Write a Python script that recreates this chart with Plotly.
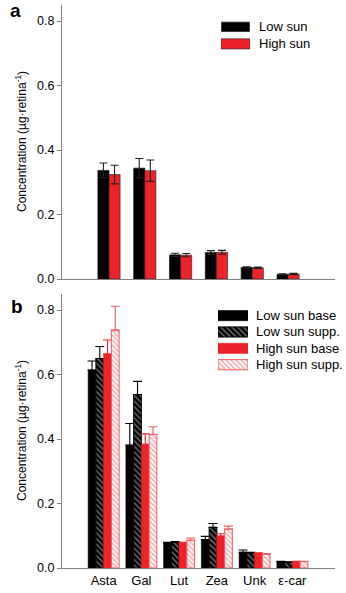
import plotly.graph_objects as go

# ---------------- data ----------------
categories = ["Asta", "Gal", "Lut", "Zea", "Unk", "ε-car"]

# panel a
a_names = ["Low sun", "High sun"]
a_low = [0.337, 0.344, 0.075, 0.082, 0.036, 0.0145]
a_low_err = [0.023, 0.030, 0.005, 0.006, 0.002, 0.002]
a_high = [0.324, 0.336, 0.074, 0.083, 0.035, 0.0155]
a_high_err = [0.029, 0.033, 0.005, 0.006, 0.002, 0.002]

# panel b
b_names = ["Low sun base", "Low sun supp.", "High sun base", "High sun supp."]
b_low_base = [0.614, 0.381, 0.077, 0.088, 0.049, 0.020]
b_low_base_err = [0.028, 0.067, 0.003, 0.010, 0.007, 0.001]
b_low_supp = [0.650, 0.538, 0.080, 0.126, 0.047, 0.018]
b_low_supp_err = [0.037, 0.041, 0.002, 0.012, 0.002, 0.001]
b_high_base = [0.664, 0.384, 0.077, 0.099, 0.046, 0.020]
b_high_base_err = [0.043, 0.032, 0.003, 0.007, 0.001, 0.001]
b_high_supp = [0.738, 0.414, 0.086, 0.121, 0.043, 0.020]
b_high_supp_err = [0.074, 0.024, 0.007, 0.009, 0.002, 0.001]

y_ticks = [0.0, 0.2, 0.4, 0.6, 0.8]
y_ticklabels = ["0.0", "0.2", "0.4", "0.6", "0.8"]

# ---------------- style ----------------
W, H = 346, 593
ML, MR, MT, MB = 61, 11, 5, 23
PW, PH = W - ML - MR, H - MT - MB
FONT = "Arial, Liberation Sans, sans-serif"
RED = "#ED2329"
PINK = "#F25A60"
AXC = "#7f7f7f"


def px_x(p):
    return (p - ML) / PW


def px_y(p):
    return (H - MB - p) / PH


fig = go.Figure()

xs = list(range(len(categories)))

# ---- panel a bars ----
wa = 0.31
for vals, errs, color, off, name in [
    (a_low, a_low_err, "black", -wa, a_names[0]),
    (a_high, a_high_err, RED, 0.0, a_names[1]),
]:
    fig.add_trace(go.Bar(
        x=xs, y=vals, width=wa, offset=off, name=name,
        marker=dict(color=color, line=dict(color="#222" if color == RED else "black", width=0.6)),
        error_y=dict(type="data", array=errs, color="#222", thickness=1.1, width=4),
        xaxis="x", yaxis="y", showlegend=False,
    ))

# ---- panel b bars ----
wb = 0.205
b_series = [
    (b_low_base, b_low_base_err, dict(color="black", line=dict(color="black", width=0.6)), "black", -2 * wb),
    (b_low_supp, b_low_supp_err, dict(color="black", line=dict(color="black", width=1),
                                      pattern=dict(shape="\\", fgcolor="white", bgcolor="black",
                                                   size=4, solidity=0.3)), "black", -wb),
    (b_high_base, b_high_base_err, dict(color=RED, line=dict(color=RED, width=0.6)), RED, 0.0),
    (b_high_supp, b_high_supp_err, dict(color=RED, line=dict(color=PINK, width=1),
                                        pattern=dict(shape="\\", fgcolor=PINK, bgcolor="white",
                                                     size=3.5, solidity=0.45)), PINK, wb),
]
for (vals, errs, mk, ecol, off), name in zip(b_series, b_names):
    fig.add_trace(go.Bar(
        x=xs, y=vals, width=wb, offset=off, name=name, marker=mk,
        error_y=dict(type="data", symmetric=False, array=errs, arrayminus=[0] * len(errs),
                     color=ecol, thickness=1.1, width=4.5),
        xaxis="x2", yaxis="y2", showlegend=False,
    ))

# ---- legend swatches (horizontal bars on hidden axes) ----
a_leg_marks = [dict(color="black"), dict(color=RED, line=dict(color="#222", width=0.6))]
for i, (name, mk) in enumerate(zip(a_names, a_leg_marks)):
    fig.add_trace(go.Bar(x=[1], y=[i], base=0, orientation="h", width=0.6, marker=mk,
                         xaxis="x3", yaxis="y3", showlegend=False, hoverinfo="skip"))
for i, (name, ser) in enumerate(zip(b_names, b_series)):
    fig.add_trace(go.Bar(x=[1], y=[i], base=0, orientation="h", width=0.62, marker=ser[2],
                         xaxis="x4", yaxis="y4", showlegend=False, hoverinfo="skip"))

# ---------------- layout ----------------
dom_a = [px_y(280), px_y(5)]
dom_b = [px_y(570), px_y(295)]

yax = dict(range=[0, 0.85], tickvals=y_ticks, ticktext=y_ticklabels, ticks="outside", ticklen=4,
           tickcolor=AXC, showline=True, linecolor=AXC, linewidth=1, showgrid=False, zeroline=False,
           tickfont=dict(family=FONT, size=12.5, color="black"), anchor="free", position=0)
xax = dict(showline=True, linecolor=AXC, linewidth=1, showgrid=False, zeroline=False, ticks="")

hidden = dict(visible=False, showgrid=False, zeroline=False, fixedrange=True)

annotations = []
# legend texts
a_rows_px = [27, 44]
for name, ry in zip(a_names, a_rows_px):
    annotations.append(dict(text=name, xref="paper", yref="paper", x=px_x(257), y=px_y(ry),
                            xanchor="left", yanchor="middle", showarrow=False,
                            font=dict(family=FONT, size=13, color="black")))
b_rows_px = [316.7, 333.1, 349.5, 366]
for name, ry in zip(b_names, b_rows_px):
    annotations.append(dict(text=name, xref="paper", yref="paper", x=px_x(254), y=px_y(ry),
                            xanchor="left", yanchor="middle", showarrow=False,
                            font=dict(family=FONT, size=13, color="black")))
# y titles
for yref in ["y domain", "y2 domain"]:
    annotations.append(dict(text="Concentration (µg·retina<sup>-1</sup>)", xref="paper", yref=yref,
                            x=px_x(21), y=0.5, textangle=-90, xanchor="center", yanchor="middle",
                            showarrow=False, font=dict(family=FONT, size=12, color="black")))
# panel letters
annotations.append(dict(text="<b>a</b>", xref="paper", yref="paper", x=px_x(15), y=px_y(11),
                        xanchor="center", yanchor="middle", showarrow=False,
                        font=dict(family=FONT, size=19, color="black")))
annotations.append(dict(text="<b>b</b>", xref="paper", yref="paper", x=px_x(17), y=px_y(308),
                        xanchor="center", yanchor="middle", showarrow=False,
                        font=dict(family=FONT, size=19, color="black")))

fig.update_layout(
    width=W, height=H,
    margin=dict(l=ML, r=MR, t=MT, b=MB, pad=0),
    paper_bgcolor="white", plot_bgcolor="white",
    barmode="overlay",
    showlegend=False,
    font=dict(family=FONT, color="black"),
    xaxis=dict(**xax, domain=[0, 1], anchor="y", range=[-1.34, 6.31], tickvals=xs, showticklabels=False),
    yaxis=dict(**yax, domain=dom_a),
    xaxis2=dict(**xax, domain=[0, 1], anchor="y2", range=[-1.13, 6.13], tickvals=xs,
                ticktext=categories, showticklabels=True,
                tickfont=dict(family=FONT, size=13, color="black")),
    yaxis2=dict(**yax, domain=dom_b),
    xaxis3=dict(**hidden, domain=[px_x(221), px_x(250)], range=[0, 1], anchor="y3"),
    yaxis3=dict(**hidden, domain=[px_y(44 + 8.5), px_y(27 - 8.5)], range=[1.5, -0.5], anchor="x3"),
    xaxis4=dict(**hidden, domain=[px_x(218), px_x(248)], range=[0, 1], anchor="y4"),
    yaxis4=dict(**hidden, domain=[px_y(366 + 8.2), px_y(316.7 - 8.2)], range=[3.5, -0.5], anchor="x4"),
    annotations=annotations,
)

fig.write_html("out.html")
